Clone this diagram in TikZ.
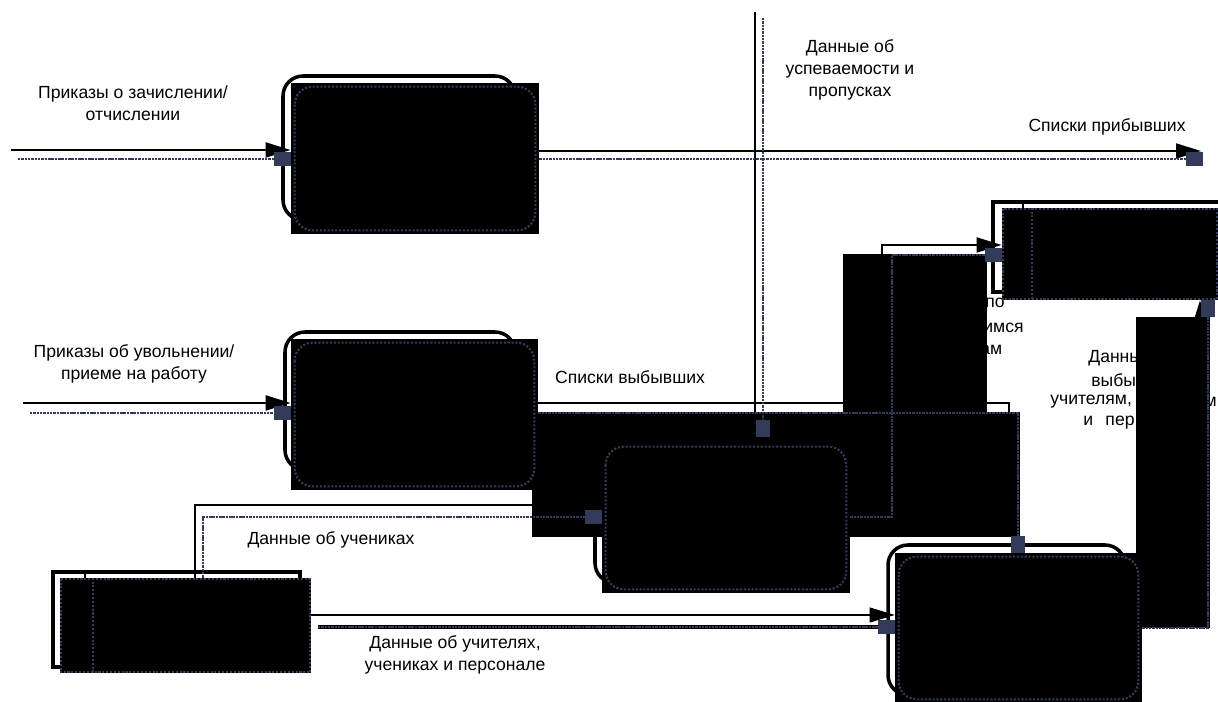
\documentclass[tikz,border=0pt]{standalone}
\usepackage{fontspec}
\setmainfont{Liberation Sans}
\usetikzlibrary{arrows.meta}
\definecolor{dfdnavy}{RGB}{50,60,88}

\begin{document}
\begin{tikzpicture}[x=0.02cm, y=-0.02cm,
  every node/.style={inner sep=0pt, font=\fontsize{10}{12.5}\selectfont},
  lbl/.style={align=center},
  frag/.style={anchor=west},
  blk/.style={rectangle, fill=black},
  rim/.style={draw=black, line width=2pt},
  rimnavy/.style={draw=dfdnavy, line width=1.2pt, densely dotted},
  flow/.style={draw, line width=1.1pt, -{Triangle[length=0.5cm, width=0.3cm]}},
  trail/.style={draw=dfdnavy, line width=1.1pt, dash pattern=on 1.4pt off 0.5pt, -{Square[length=0.34cm, width=0.28cm]}}]
\useasboundingbox (0,0) rectangle (1218,702);
% labels
\node[lbl] (L1) at (133,103) {Приказы о зачислении/\\отчислении};
\node[lbl] (L2) at (850,70) {Данные об\\успеваемости и\\пропусках};
\node[lbl] (L3) at (1107,127) {Списки прибывших};
\node[lbl] (L4) at (134,364) {Приказы об увольнении/\\приеме на работу};
\node[lbl] (L5) at (630,377) {Списки выбывших};
\node[lbl] (L6) at (331,540) {Данные об учениках};
\node[lbl] (L7) at (455,655) {Данные об учителях,\\учениках и персонале};
\node[frag] (L8a) at (985,303) {по};
\node[frag] (L8b) at (983,328) {имся};
\node[frag] (L8c) at (980,350) {ам};
\node[frag] (L9a) at (1088,358) {Данны};
\node[frag] (L9b) at (1091,380) {выбы};
\node[frag] (L9c) at (1050,402) {учителям,};
\node[frag] (L9e) at (1083,423) {и\hspace{7pt}пер};
% black boxes
\node[blk, minimum width=4.96cm, minimum height=3.02cm] (P1) at (415,158.5) {};
\node[blk, minimum width=4.94cm, minimum height=3.02cm] (P2) at (414.5,414.5) {};
\node[blk, minimum width=4.96cm, minimum height=3.00cm] (P3) at (726,518) {};
\node[blk, minimum width=4.94cm, minimum height=3.00cm] (P4) at (1018.5,628) {};
\node[blk, minimum width=5.02cm, minimum height=1.90cm] (S1) at (185.5,625.5) {};
\node[blk, minimum width=4.32cm, minimum height=1.84cm] (S2) at (1110,254) {};
\node[blk, minimum width=2.88cm, minimum height=3.16cm] (M1) at (915,333) {};
\node[blk, minimum width=9.76cm, minimum height=2.50cm] (M2) at (776,474.5) {};
\node[blk, minimum width=1.48cm, minimum height=6.22cm] (M3) at (1173,472.5) {};
\node[anchor=east] (L9d) at (1217,402) {м};
% outlines
\draw[rim, rounded corners=0.4cm] (283,76) rectangle (515,220);
\draw[rim, rounded corners=0.4cm] (285,332) rectangle (515,470);
\draw[rim, rounded corners=0.4cm] (595,436) rectangle (835,583);
\draw[rim, rounded corners=0.4cm] (888,545) rectangle (1125,695);
\draw[rim] (53,572) rectangle (300,667);
\draw[rim] (993,202) rectangle (1240,292);
\coordinate (d1) at (85,572);
\draw[line width=1.1pt] (d1) -- (d1 |- S1.north);
\coordinate (d3) at (1023,202);
\draw[line width=1.1pt] (d3) -- (d3 |- S2.north);
% flows
\coordinate (a1) at (11,150);
\draw[flow] (a1) -- (a1 -| P1.west);
\coordinate (a2) at (1201,151);
\draw[flow] (a2 -| P1.east) -- (a2);
\coordinate (a3) at (755,12);
\draw[line width=1.1pt] (a3) -- (a3 |- M2.north);
\coordinate (a4) at (23,403);
\draw[flow] (a4) -- (a4 -| P2.west);
\coordinate (a5) at (1009,403);
\draw[line width=1.1pt] (a5 -| P2.east) -- (a5) -- (a5 |- M2.north);
\coordinate (a6) at (195,505);
\draw[line width=0.6pt] (a6 |- S1.north) -- (a6) -- (a6 -| P3.west);
\coordinate (a7) at (311,615);
\draw[flow, line width=0.6pt] (a7) -- (a7 -| P4.west);
\coordinate (a8) at (882,507);
\coordinate (a8b) at (882,245);
\draw[flow] (a8 -| P3.east) -- (a8) -- (a8b) -- (a8b -| S2.west);
\coordinate (a9) at (1200,618);
\draw[flow] (a9 -| P4.east) -- (a9) -- (a9 |- S2.south);
\coordinate (a10) at (318,627);
\draw[line width=2.2pt] (a10) -- (a10 -| P4.west);
% shadow lines
\coordinate (g1) at (18,159);
\draw[trail] (g1) -- (g1 -| P1.west);
\coordinate (g2) at (1203,159);
\draw[trail] (g2 -| P1.east) -- (g2);
\coordinate (g3) at (763,18);
\coordinate (g3e) at (763,437);
\draw[trail] (g3) -- (g3e);
\coordinate (g4) at (30,413);
\draw[trail] (g4) -- (g4 -| P2.west);
\coordinate (g5) at (1018,413);
\draw[trail] (g5 -| P2.east) -- (g5) -- (g5 |- P4.north);
\coordinate (g6) at (203,517);
\draw[trail] (g6 |- S1.north) -- (g6) -- (g6 -| P3.west);
\coordinate (g7) at (318,627);
\draw[trail] (g7) -- (g7 -| P4.west);
\coordinate (g8) at (892,517);
\coordinate (g8b) at (892,255);
\draw[trail] (g8 -| P3.east) -- (g8) -- (g8b) -- (g8b -| S2.west);
\coordinate (g9) at (1208,628);
\draw[trail] (g9 -| P4.east) -- (g9) -- (g9 |- S2.south);
% inner borders
\draw[rimnavy, rounded corners=0.36cm] ([shift={(4,4)}]P1.north west) rectangle ([shift={(-4,-4)}]P1.south east);
\draw[rimnavy, rounded corners=0.36cm] ([shift={(4,4)}]P2.north west) rectangle ([shift={(-4,-4)}]P2.south east);
\draw[rimnavy, rounded corners=0.36cm] ([shift={(4,4)}]P3.north west) rectangle ([shift={(-4,-4)}]P3.south east);
\draw[rimnavy, rounded corners=0.36cm] ([shift={(4,4)}]P4.north west) rectangle ([shift={(-4,-4)}]P4.south east);
\draw[rimnavy] ([shift={(1,1)}]S1.north west) rectangle ([shift={(-1,-1)}]S1.south east);
\draw[rimnavy] ([shift={(1,1)}]S2.north west) rectangle ([shift={(-1,-1)}]S2.south east);
\coordinate (d2) at (93,578);
\draw[rimnavy] (d2 |- S1.north) -- (d2 |- S1.south);
\coordinate (d4) at (1032,208);
\draw[rimnavy] (d4 |- S2.north) -- (d4 |- S2.south);
\end{tikzpicture}
\end{document}
